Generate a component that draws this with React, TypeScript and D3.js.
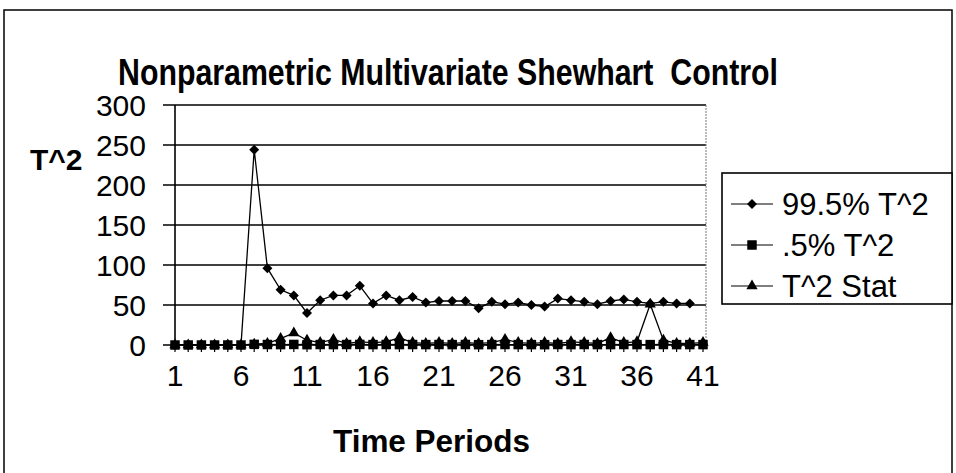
import React from "react";
import * as d3 from "d3";

const periods = [
  1, 2, 3, 4, 5, 6, 7, 8, 9, 10, 11, 12, 13, 14, 15, 16, 17, 18, 19, 20, 21,
  22, 23, 24, 25, 26, 27, 28, 29, 30, 31, 32, 33, 34, 35, 36, 37, 38, 39, 40, 41,
];
const upperT2 = [
  0, 0, 0, 0, 0, 0, 244, 96, 69, 62, 40, 56, 62, 62, 74, 52, 62, 56, 60, 53,
  55, 55, 55, 46, 54, 51, 53, 50, 48, 58, 56, 54, 51, 55, 57, 54, 52, 54, 52,
  52, null,
];
const lowerT2 = [
  0, 0, 0, 0, 0, 0, 0.8, 0.6, 0.5, 0.7, 0.4, 0.6, 0.5, 0.6, 0.7, 0.5, 0.6, 0.5,
  0.6, 0.5, 0.6, 0.5, 0.6, 0.4, 0.5, 0.6, 0.5, 0.5, 0.4, 0.6, 0.5, 0.6, 0.5,
  0.5, 0.6, 0.5, 0.5, 0.6, 0.5, 0.5, 0.5,
];
const statT2 = [
  0, 0, 0, 0, 0, 0, 1, 2, 8, 15, 6, 3, 7, 2, 4, 3, 4, 9, 3, 2, 3, 2, 3, 2, 3,
  7, 3, 2, 3, 2, 4, 3, 2, 9, 3, 4, 51, 6, 2, 2, 3,
];
const yTicks = [0, 50, 100, 150, 200, 250, 300];
const xTickLabels = [1, 6, 11, 16, 21, 26, 31, 36, 41];
const seriesNames = ["99.5% T^2", ".5% T^2", "T^2 Stat"];

const font = "'Liberation Sans', Arial, sans-serif";

const App = () => {
  const ref = React.useRef<SVGSVGElement>(null);

  React.useEffect(() => {
    const svg = d3.select(ref.current);
    svg.selectAll("*").remove();

    const x = d3.scaleLinear().domain([1, 41]).range([175, 703]);
    const y = d3.scaleLinear().domain([0, 300]).range([345, 105]);

    // outer chart frame
    svg
      .append("rect")
      .attr("x", 4)
      .attr("y", 10)
      .attr("width", 948)
      .attr("height", 480)
      .attr("fill", "none")
      .attr("stroke", "#000")
      .attr("stroke-width", 1.5);

    // title
    svg
      .append("text")
      .attr("x", 118)
      .attr("y", 85)
      .attr("textLength", 660)
      .attr("lengthAdjust", "spacingAndGlyphs")
      .style("white-space", "pre")
      .style("font", `bold 36px ${font}`)
      .text("Nonparametric Multivariate Shewhart  Control");

    // gridlines
    svg
      .append("g")
      .selectAll("line")
      .data(yTicks)
      .enter()
      .append("line")
      .attr("x1", 163)
      .attr("x2", 706)
      .attr("y1", (d) => y(d))
      .attr("y2", (d) => y(d))
      .attr("stroke", "#000")
      .attr("stroke-width", 1.6);

    // right plot border (dotted)
    svg
      .append("line")
      .attr("x1", 706)
      .attr("x2", 706)
      .attr("y1", y(300))
      .attr("y2", y(0))
      .attr("stroke", "#777")
      .attr("stroke-dasharray", "2,1");

    // y axis line
    svg
      .append("line")
      .attr("x1", 175)
      .attr("x2", 175)
      .attr("y1", y(300))
      .attr("y2", y(0))
      .attr("stroke", "#000")
      .attr("stroke-width", 1.6);

    // y tick labels
    svg
      .append("g")
      .selectAll("text")
      .data(yTicks)
      .enter()
      .append("text")
      .attr("x", 146)
      .attr("y", (d) => y(d) + 11)
      .attr("text-anchor", "end")
      .style("font", `30px ${font}`)
      .text((d) => d);

    // x tick marks
    svg
      .append("g")
      .selectAll("line")
      .data(periods)
      .enter()
      .append("line")
      .attr("x1", (d) => x(d))
      .attr("x2", (d) => x(d))
      .attr("y1", y(0))
      .attr("y2", y(0) + 7)
      .attr("stroke", "#000")
      .attr("stroke-width", 1.2);

    svg
      .append("g")
      .selectAll("text")
      .data(xTickLabels)
      .enter()
      .append("text")
      .attr("x", (d) => x(d))
      .attr("y", 386)
      .attr("text-anchor", "middle")
      .style("font", `30px ${font}`)
      .text((d) => d);

    // axis titles
    svg
      .append("text")
      .attr("x", 30)
      .attr("y", 170)
      .style("font", `bold 30px ${font}`)
      .text("T^2");

    svg
      .append("text")
      .attr("x", 333)
      .attr("y", 452)
      .attr("textLength", 197)
      .attr("lengthAdjust", "spacingAndGlyphs")
      .style("font", `bold 32px ${font}`)
      .text("Time Periods");

    const diamond = d3.symbol().type(d3.symbolDiamond2).size(64);
    const square = d3.symbol().type(d3.symbolSquare).size(90);
    const triangle = d3.symbol().type(d3.symbolTriangle).size(55);
    const markers = [diamond, square, triangle];
    const allSeries = [upperT2, lowerT2, statT2];

    const line = d3
      .line<[number, number | null]>()
      .defined((d) => d[1] !== null)
      .x((d) => x(d[0]))
      .y((d) => y(d[1] as number));

    allSeries.forEach((vals, i) => {
      const pts: [number, number | null][] = periods.map((p, j) => [p, vals[j]]);
      const g = svg.append("g");
      g.append("path")
        .attr("d", line(pts))
        .attr("fill", "none")
        .attr("stroke", "#000")
        .attr("stroke-width", 1.3);
      g.selectAll("path.m")
        .data(pts.filter((d) => d[1] !== null))
        .enter()
        .append("path")
        .attr("class", "m")
        .attr("d", markers[i])
        .attr("transform", (d) => `translate(${x(d[0])},${y(d[1] as number)})`)
        .attr("fill", "#000");
    });

    // legend
    const lg = svg.append("g");
    lg.append("rect")
      .attr("x", 722)
      .attr("y", 173)
      .attr("width", 230)
      .attr("height", 131)
      .attr("fill", "#fff")
      .attr("stroke", "#000")
      .attr("stroke-width", 1.6);

    const legendY = [204, 245, 286];
    seriesNames.forEach((name, i) => {
      const cy = legendY[i];
      lg.append("line")
        .attr("x1", 731)
        .attr("x2", 773)
        .attr("y1", cy)
        .attr("y2", cy)
        .attr("stroke", "#000")
        .attr("stroke-width", 1.2);
      lg.append("path")
        .attr("d", markers[i])
        .attr("transform", `translate(752,${cy})`)
        .attr("fill", "#000");
      lg.append("text")
        .attr("x", 782)
        .attr("y", cy + 11)
        .style("font", `31px ${font}`)
        .text(name);
    });
  }, []);

  return (
    <svg
      ref={ref}
      width={956}
      height={473}
      style={{ position: "absolute", left: 0, top: 0, background: "#fff" }}
    />
  );
};

export default App;
